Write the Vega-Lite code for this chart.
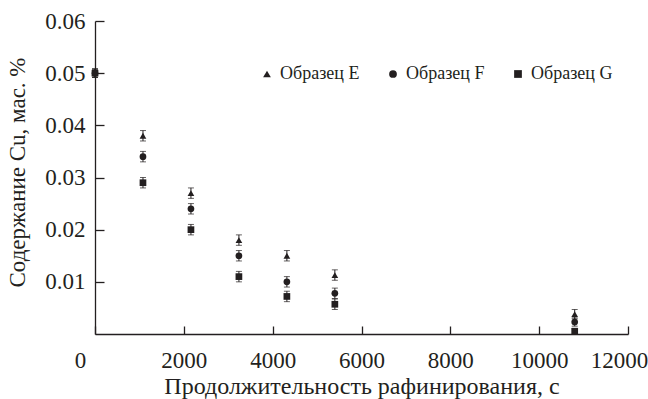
{
  "$schema": "https://vega.github.io/schema/vega-lite/v6.json",
  "width": 533,
  "height": 313,
  "autosize": {"type": "none"},
  "padding": {"left": 95, "top": 21, "right": 20, "bottom": 65},
  "background": "white",
  "config": {"view": {"stroke": null}, "font": "Liberation Serif"},
  "data": {
    "values": [
      {"t": 0, "cu": 0.05, "err": 0.0008, "sample": "Образец E"},
      {"t": 0, "cu": 0.05, "err": 0.0008, "sample": "Образец G"},
      {"t": 0, "cu": 0.05, "err": 0.0008, "sample": "Образец F"},
      {"t": 1080, "cu": 0.038, "err": 0.001, "sample": "Образец E"},
      {"t": 1080, "cu": 0.034, "err": 0.001, "sample": "Образец F"},
      {"t": 1080, "cu": 0.029, "err": 0.001, "sample": "Образец G"},
      {"t": 2160, "cu": 0.027, "err": 0.001, "sample": "Образец E"},
      {"t": 2160, "cu": 0.024, "err": 0.001, "sample": "Образец F"},
      {"t": 2160, "cu": 0.02, "err": 0.001, "sample": "Образец G"},
      {"t": 3240, "cu": 0.018, "err": 0.001, "sample": "Образец E"},
      {"t": 3240, "cu": 0.015, "err": 0.001, "sample": "Образец F"},
      {"t": 3240, "cu": 0.011, "err": 0.001, "sample": "Образец G"},
      {"t": 4320, "cu": 0.015, "err": 0.001, "sample": "Образец E"},
      {"t": 4320, "cu": 0.01, "err": 0.001, "sample": "Образец F"},
      {"t": 4320, "cu": 0.0072, "err": 0.001, "sample": "Образец G"},
      {"t": 5400, "cu": 0.0113, "err": 0.001, "sample": "Образец E"},
      {"t": 5400, "cu": 0.0078, "err": 0.001, "sample": "Образец F"},
      {"t": 5400, "cu": 0.0057, "err": 0.001, "sample": "Образец G"},
      {"t": 10800, "cu": 0.0038, "err": 0.0009, "sample": "Образец E"},
      {"t": 10800, "cu": 0.0023, "err": 0.0008, "sample": "Образец F"},
      {"t": 10800, "cu": 0.0005, "err": 0.0006, "sample": "Образец G"}
    ]
  },
  "encoding": {
    "x": {
      "field": "t",
      "type": "quantitative",
      "scale": {"domain": [0, 12000], "nice": false},
      "axis": {
        "values": [0, 2000, 4000, 6000, 8000, 10000, 12000],
        "format": "d",
        "grid": false,
        "tickSize": -8,
        "labelFont": "Liberation Serif",
        "labelFontSize": 23,
        "labelPadding": 23,
        "labelColor": "#231f20",
        "labelFlush": false,
        "labelOverlap": false,
        "labelOffset": {"condition": [{"test": "datum.value === 0", "value": -15}, {"test": "datum.value === 12000", "value": -9}], "value": 0},
        "domainColor": "#231f20",
        "domainWidth": 1.3,
        "tickColor": "#231f20",
        "tickWidth": 1.3,
        "title": "Продолжительность рафинирования, с",
        "titleFont": "Liberation Serif",
        "titleFontSize": 24,
        "titleFontWeight": "normal",
        "titleColor": "#231f20",
        "titlePadding": 2
      }
    },
    "y": {
      "field": "cu",
      "type": "quantitative",
      "scale": {"domain": [0, 0.06], "nice": false},
      "axis": {
        "values": [0.01, 0.02, 0.03, 0.04, 0.05, 0.06],
        "format": ".2f",
        "grid": false,
        "tickSize": -9,
        "labelFont": "Liberation Serif",
        "labelFontSize": 23,
        "labelPadding": 19,
        "labelColor": "#231f20",
        "labelFlush": false,
        "labelOverlap": false,
        "domainColor": "#231f20",
        "domainWidth": 1.3,
        "tickColor": "#231f20",
        "tickWidth": 1.3,
        "title": "Содержание Cu, мас. %",
        "titleFont": "Liberation Serif",
        "titleFontSize": 23,
        "titleFontWeight": "normal",
        "titleColor": "#231f20",
        "titleX": -66,
        "titleY": 151
      }
    }
  },
  "layer": [
    {
      "mark": {"type": "errorbar", "color": "#231f20", "ticks": {"size": 6, "color": "#231f20"}},
      "encoding": {"yError": {"field": "err"}}
    },
    {
      "mark": {"type": "point", "filled": true, "opacity": 1, "size": 45, "color": "#231f20"},
      "encoding": {
        "shape": {
          "field": "sample",
          "type": "nominal",
          "scale": {"domain": ["Образец E", "Образец F", "Образец G"], "range": ["triangle-up", "circle", "square"]},
          "legend": {
            "orient": "none",
            "legendX": 163,
            "legendY": 44,
            "direction": "horizontal",
            "columns": 3,
            "title": null,
            "labelFont": "Liberation Serif",
            "labelFontSize": 18,
            "labelColor": "#231f20",
            "labelOffset": 4,
            "symbolSize": 60,
            "symbolFillColor": "#231f20",
            "symbolStrokeColor": "#231f20",
            "columnPadding": 24
          }
        }
      }
    }
  ]
}
